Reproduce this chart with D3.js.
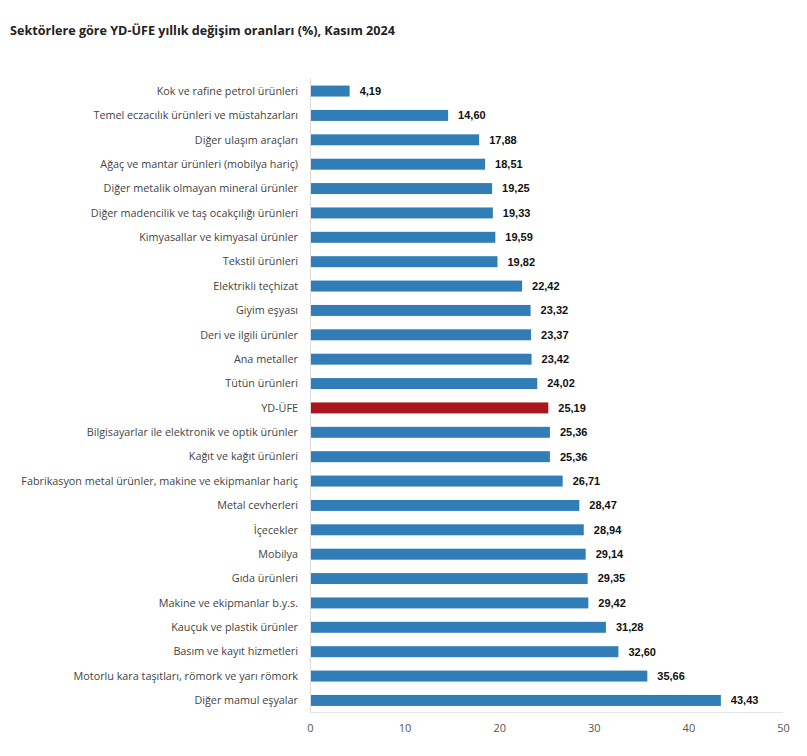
<!DOCTYPE html>
<html><head><meta charset="utf-8">
<script src="https://cdn.jsdelivr.net/npm/d3@7/dist/d3.min.js"></script>
<style>body{margin:0;background:#fff}</style>
</head><body>
<svg id="c" width="807" height="756"></svg>
<script>
const categories = ["Kok ve rafine petrol ürünleri","Temel eczacılık ürünleri ve müstahzarları","Diğer ulaşım araçları","Ağaç ve mantar ürünleri (mobilya hariç)","Diğer metalik olmayan mineral ürünler","Diğer madencilik ve taş ocakçılığı ürünleri","Kimyasallar ve kimyasal ürünler","Tekstil ürünleri","Elektrikli teçhizat","Giyim eşyası","Deri ve ilgili ürünler","Ana metaller","Tütün ürünleri","YD-ÜFE","Bilgisayarlar ile elektronik ve optik ürünler","Kağıt ve kağıt ürünleri","Fabrikasyon metal ürünler, makine ve ekipmanlar hariç","Metal cevherleri","İçecekler","Mobilya","Gıda ürünleri","Makine ve ekipmanlar b.y.s.","Kauçuk ve plastik ürünler","Basım ve kayıt hizmetleri","Motorlu kara taşıtları, römork ve yarı römork","Diğer mamul eşyalar"];
const values = [4.19,14.60,17.88,18.51,19.25,19.33,19.59,19.82,22.42,23.32,23.37,23.42,24.02,25.19,25.36,25.36,26.71,28.47,28.94,29.14,29.35,29.42,31.28,32.60,35.66,43.43];
const highlight = "YD-ÜFE";
const xTicks = [0,10,20,30,40,50];

const svg = d3.select("#c");
const x = d3.scaleLinear().domain([0,50]).range([310,783]);
const y = d3.scaleBand().domain(categories).range([79,712.5]).paddingInner(0.55).paddingOuter(0.27);

svg.append("text").attr("x",10).attr("y",35).text("Sektörlere göre YD-ÜFE yıllık değişim oranları (%), Kasım 2024")
  .style("font-family","'Open Sans', 'Noto Sans', sans-serif").style("font-weight","bold").style("font-size","12.6px").attr("fill","#222");

svg.append("line").attr("x1",x(0)).attr("x2",x(50)).attr("y1",712.5).attr("y2",712.5).attr("stroke","#e6e6e6").attr("stroke-width",1);
svg.append("line").attr("x1",x(0)+0.5).attr("x2",x(0)+0.5).attr("y1",78).attr("y2",713).attr("stroke","#dcdcdc").attr("stroke-width",1);

const data = categories.map((c,i)=>({c, v: values[i]}));

svg.selectAll("rect.bar").data(data).join("rect").attr("class","bar")
  .attr("x",x(0)+1).attr("y",d=>y(d.c)).attr("height",y.bandwidth())
  .attr("width",d=>x(d.v)-x(0)-1)
  .attr("fill",d=>d.c===highlight?"#AB151E":"#317DB8");

svg.selectAll("text.val").data(data).join("text").attr("class","val")
  .attr("x",d=>x(d.v)+10).attr("y",d=>y(d.c)+y.bandwidth()/2).attr("dy","0.35em")
  .text(d=>d.v.toFixed(2).replace(".",","))
  .style("font-family","'Liberation Sans', Arial, sans-serif").style("font-weight","bold").style("font-size","11px").attr("fill","#111");

svg.selectAll("text.cat").data(data).join("text").attr("class","cat")
  .attr("x",298).attr("y",d=>y(d.c)+y.bandwidth()/2).attr("dy","0.35em").attr("text-anchor","end")
  .text(d=>d.c)
  .style("font-family","'Open Sans', 'Noto Sans', sans-serif").style("font-size","10.8px").attr("fill","#444");

const ax = svg.append("g").attr("transform","translate(0,712)")
  .call(d3.axisBottom(x).tickValues(xTicks).tickSize(0).tickPadding(12).tickFormat(d3.format("d")));
ax.select(".domain").remove();
ax.selectAll("text").style("font-family","'Open Sans', 'Noto Sans', sans-serif").style("font-size","11px").attr("fill","#555");
</script>
</body></html>
